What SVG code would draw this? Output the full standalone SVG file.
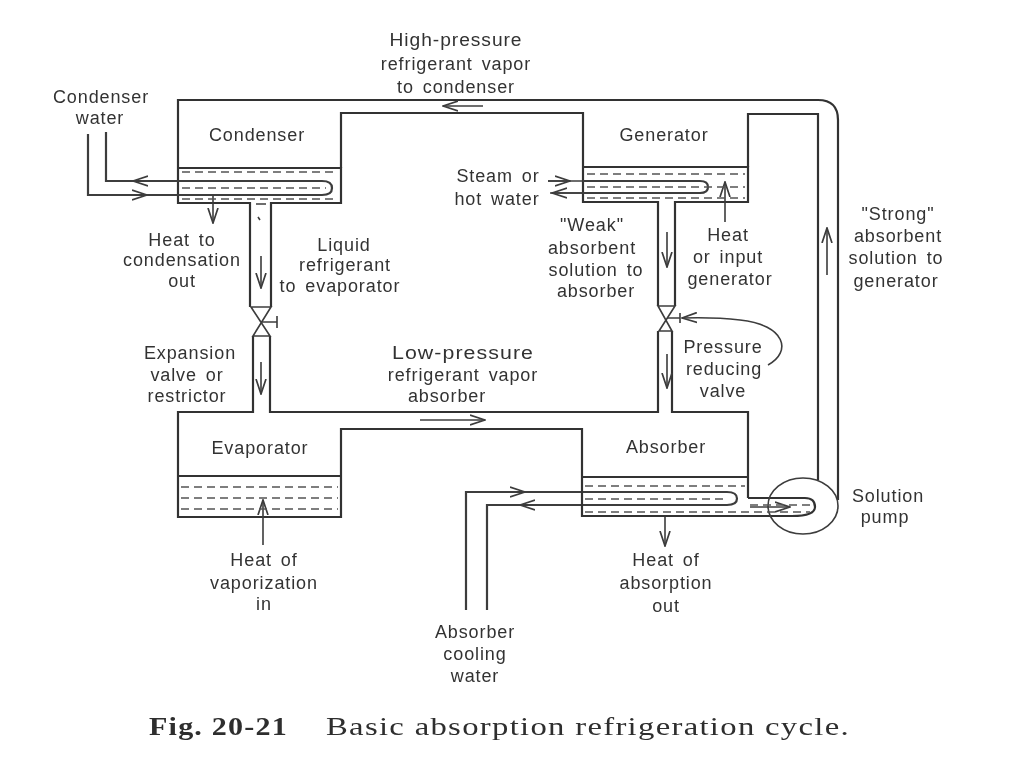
<svg xmlns="http://www.w3.org/2000/svg" width="1024" height="768" viewBox="0 0 1024 768">
<style>
.l{fill:none;stroke:#333;stroke-width:2.2}
.t{fill:none;stroke:#3c3c3c;stroke-width:1.6}
.k{fill:none;stroke:#3c3c3c;stroke-width:2.2}
.d{fill:none;stroke:#555;stroke-width:1.4;stroke-dasharray:8 5}
text{font-family:"Liberation Sans",Arial,sans-serif;font-size:18px;letter-spacing:.9px;word-spacing:3px;fill:#333;text-anchor:middle}
.c{font-family:"Liberation Serif","Times New Roman",serif;font-size:25px;letter-spacing:1px;word-spacing:0;fill:#2e2e2e;text-anchor:start}
.b{font-weight:bold}
</style>
<defs>
<marker id="a" viewBox="0 0 16 12" refX="15" refY="6" markerWidth="16" markerHeight="12" markerUnits="userSpaceOnUse" orient="auto"><path d="M0 1L15 6L0 11" fill="none" stroke="#3c3c3c" stroke-width="1.7"/></marker>
<filter id="s" x="0" y="0" width="100%" height="100%"><feGaussianBlur stdDeviation="0.45"/></filter>
</defs>
<rect width="1024" height="768" fill="#fff"/>
<g filter="url(#s)">
<g id="connectors">
<path class="l" d="M178 168V100H818Q838 100 838 120V500"/>
<path class="l" d="M341 168V113H583V167"/>
<path class="l" d="M748 167V114H818V480"/>
<path class="l" d="M178 168H341V203H271V307M178 168V203H250V307"/>
<path class="l" d="M583 167H748V202H675V306M583 167V202H658V306"/>
<path class="l" d="M253 336V412H178V476M270 336V412H658V331M672 331V412H748V498"/>
<path class="l" d="M178 476H341M178 476V517H341V429H582V477"/>
<path class="t" d="M251 307H271L253 336H270ZM658 306H675L659 331H672Z"/>
<path class="t" d="M262 322H277M277 316V328"/>
<path class="t" d="M667 318H680M680 313V323"/>
<path class="k" d="M106 132V181H322Q332 181 332 188T322 195H88V134"/>
<path class="k" d="M583 181H700Q708 181 708 187T700 193H583"/>
<path class="t" d="M548 181H583M583 193H550"/>
<path class="k" d="M466 610V492H727Q737 492 737 498.500T727 505H487V610"/>
<path class="t" d="M466 492H525" marker-end="url(#a)"/>
<path class="t" d="M582 505H520" marker-end="url(#a)"/>
<path class="t" d="M178 181H133" marker-end="url(#a)"/>
<path class="t" d="M88 195H147" marker-end="url(#a)"/>
<path class="t" d="M548 181H570" marker-end="url(#a)"/>
<path class="t" d="M583 193H552" marker-end="url(#a)"/>
<path class="t" d="M213 195V223" marker-end="url(#a)"/>
<path class="t" d="M261 256V288" marker-end="url(#a)"/>
<path class="t" d="M261 362V394" marker-end="url(#a)"/>
<path class="t" d="M667 232V267" marker-end="url(#a)"/>
<path class="t" d="M667 354V388" marker-end="url(#a)"/>
<path class="t" d="M725 222V182" marker-end="url(#a)"/>
<path class="t" d="M827 275V228" marker-end="url(#a)"/>
<path class="t" d="M665 517V546" marker-end="url(#a)"/>
<path class="t" d="M263 545V500" marker-end="url(#a)"/>
<path class="t" d="M483 106H443" marker-end="url(#a)"/>
<path class="t" d="M420 420H485" marker-end="url(#a)"/>
<path class="t" d="M768 365C792 352 786 325 740 320Q715 317 682 318" marker-end="url(#a)"/>
<path class="t" d="M750 507H790" marker-end="url(#a)"/>
<path class="l" d="M582 477H748M582 477V516H792Q815 516 815 507T805 498H748"/>
<ellipse class="t" cx="803" cy="506" rx="35" ry="28"/>
<path class="d" d="M182 172H338M182 188H326M182 199H338"/>
<path class="d" d="M587 174H745M587 187H745M587 198H745"/>
<path class="d" d="M585 486H745M585 499H728M585 512H810M750 505H810"/>
<path class="d" d="M181 487H338M181 498H338M181 509H338"/>
<path class="t" d="M256 204H266M258 217L260 220"/>
</g>
<g id="condenser"><text x="257" y="141">Condenser</text></g>
<g id="generator"><text x="664" y="141">Generator</text></g>
<g id="evaporator"><text x="260" y="454">Evaporator</text></g>
<g id="absorber"><text x="666" y="453">Absorber</text></g>
<g id="labels">
<text x="456" y="46" textLength="133" lengthAdjust="spacingAndGlyphs">High-pressure</text><text x="456" y="70">refrigerant vapor</text><text x="456" y="93">to condenser</text>
<text x="101" y="103">Condenser</text><text x="100" y="124">water</text>
<text x="182" y="246">Heat to</text><text x="182" y="266">condensation</text><text x="182" y="287">out</text>
<text x="344" y="251">Liquid</text><text x="345" y="271">refrigerant</text><text x="340" y="292">to evaporator</text>
<text x="190" y="359">Expansion</text><text x="187" y="381">valve or</text><text x="187" y="402">restrictor</text>
<text x="498" y="182">Steam or</text><text x="497" y="205">hot water</text>
<text x="592" y="231">"Weak"</text><text x="592" y="254">absorbent</text><text x="596" y="276">solution to</text><text x="596" y="297">absorber</text>
<text x="728" y="241">Heat</text><text x="728" y="263">or input</text><text x="730" y="285">generator</text>
<text x="898" y="220">"Strong"</text><text x="898" y="242">absorbent</text><text x="896" y="264">solution to</text><text x="896" y="287">generator</text>
<text x="723" y="353">Pressure</text><text x="724" y="375">reducing</text><text x="723" y="397">valve</text>
<text x="463" y="359" textLength="142" lengthAdjust="spacingAndGlyphs">Low-pressure</text><text x="463" y="381">refrigerant vapor</text><text x="447" y="402">absorber</text>
<text x="888" y="502">Solution</text><text x="885" y="523">pump</text>
<text x="264" y="566">Heat of</text><text x="264" y="589">vaporization</text><text x="264" y="610">in</text>
<text x="666" y="566">Heat of</text><text x="666" y="589">absorption</text><text x="666" y="612">out</text>
<text x="475" y="638">Absorber</text><text x="475" y="660">cooling</text><text x="475" y="682">water</text>
<text class="c b" x="149" y="735" textLength="139" lengthAdjust="spacingAndGlyphs">Fig. 20-21</text>
<text class="c" x="326" y="735" textLength="524" lengthAdjust="spacingAndGlyphs">Basic absorption refrigeration cycle.</text>
</g>
</g>
</svg>
